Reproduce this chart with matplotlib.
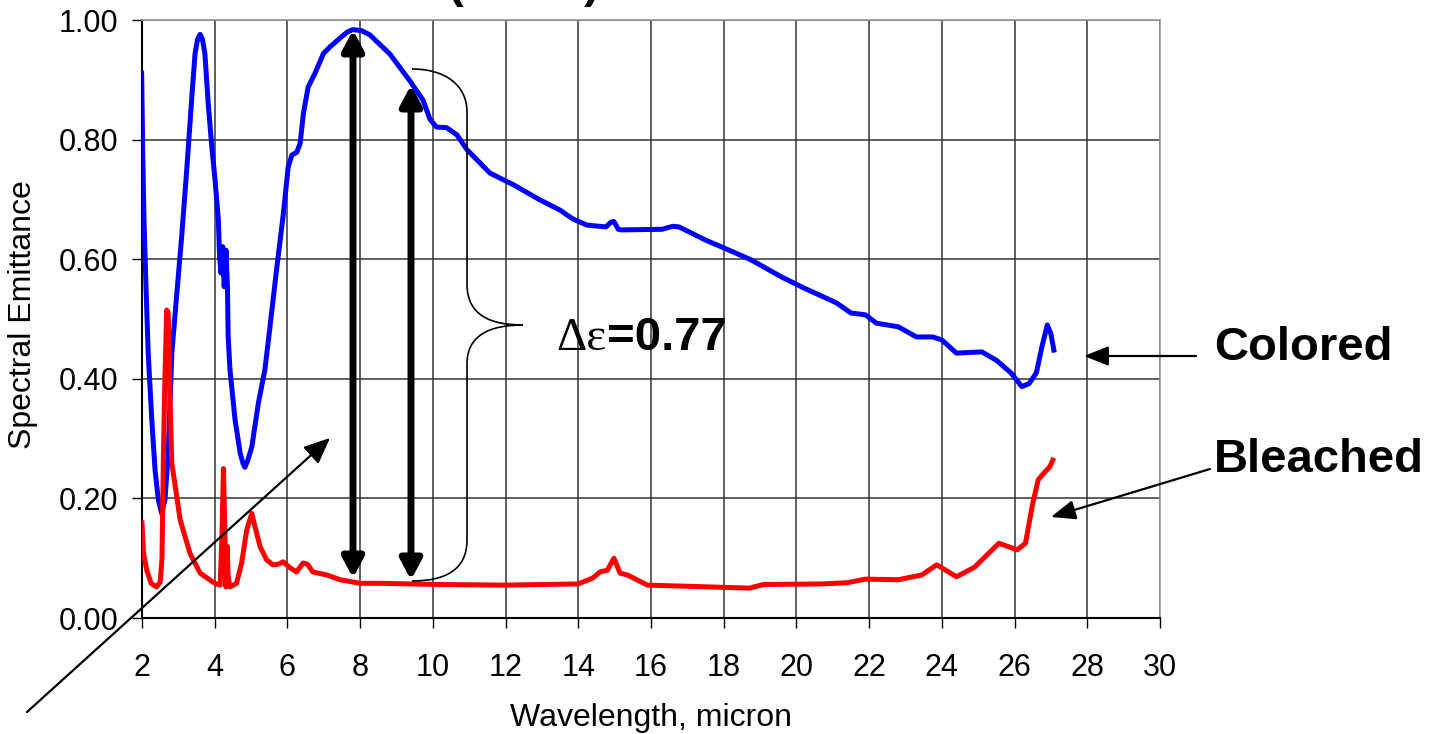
import matplotlib
matplotlib.use("Agg")
import matplotlib.pyplot as plt
from matplotlib.path import Path
from matplotlib.patches import PathPatch

plt.rcParams['font.family'] = ['Liberation Sans', 'DejaVu Sans']

# Colored curve (wavelength, emittance)
colored_x = [1.99, 2.02, 2.055, 2.11, 2.17, 2.27, 2.36, 2.45, 2.54, 2.63, 2.72, 2.82, 2.95, 3.09,
             3.23, 3.37, 3.46, 3.53, 3.6, 3.66, 3.73, 3.82, 3.92, 4.01, 4.10, 4.13, 4.17, 4.22,
             4.26, 4.31, 4.35, 4.37, 4.42, 4.56, 4.70, 4.78, 4.83, 4.90, 5.02, 5.20, 5.38, 5.52,
             5.70, 5.89, 6.02, 6.12, 6.26, 6.35, 6.44, 6.57, 6.76, 6.99, 7.17, 7.45, 7.65, 7.8,
             8.05, 8.27, 8.82, 9.37, 9.73, 9.92, 10.1, 10.38, 10.66, 10.94, 11.57, 12.2, 12.95,
             13.5, 13.86, 14.24, 14.76, 14.9, 14.98, 15.1, 15.17, 16.3, 16.6, 16.77, 17.5,
             18.0, 18.75, 19.6, 20.2, 21.1, 21.5, 21.9, 22.2, 22.8, 23.3, 23.75, 24.0, 24.4,
             25.1, 25.5, 25.9, 26.2, 26.4, 26.6, 26.75, 26.9, 27.0, 27.08]
colored_y = [0.911, 0.778, 0.666, 0.554, 0.443, 0.331, 0.247, 0.197, 0.175, 0.197, 0.275, 0.443,
             0.537, 0.637, 0.749, 0.871, 0.944, 0.968, 0.976, 0.968, 0.944, 0.861, 0.788, 0.732,
             0.666, 0.610, 0.577, 0.621, 0.554, 0.615, 0.554, 0.470, 0.415, 0.331, 0.276, 0.258,
             0.252, 0.262, 0.286, 0.359, 0.415, 0.487, 0.582, 0.677, 0.754, 0.774, 0.779, 0.794,
             0.844, 0.888, 0.911, 0.944, 0.955, 0.970, 0.980, 0.984, 0.982, 0.975, 0.943, 0.898,
             0.866, 0.834, 0.821, 0.82, 0.808, 0.783, 0.744, 0.725, 0.699,
             0.682, 0.667, 0.657, 0.654, 0.662, 0.663, 0.650, 0.649, 0.650, 0.655, 0.654, 0.632,
             0.619, 0.599, 0.570, 0.552, 0.527, 0.510, 0.507, 0.493, 0.487, 0.470, 0.470, 0.465,
             0.443, 0.445, 0.431, 0.410, 0.387, 0.392, 0.410, 0.453, 0.490, 0.475, 0.448]

# Bleached curve
bleached_x = [2.0, 2.04, 2.13, 2.25, 2.4, 2.5, 2.55, 2.59, 2.63, 2.68, 2.72, 2.77, 2.82, 3.05,
              3.32, 3.6, 4.0, 4.15, 4.2, 4.24, 4.28, 4.31, 4.34, 4.37, 4.42, 4.6, 4.74, 4.88,
              5.02, 5.11, 5.25, 5.43, 5.6, 5.75, 5.88, 6.07, 6.25, 6.43, 6.55, 6.7, 7.08, 7.45,
              8.0, 8.55, 10.2, 12.0, 14.0, 14.4, 14.6, 14.8, 14.98, 15.15, 15.35, 15.9, 17.6,
              18.7, 19.1, 20.7, 21.4, 21.9, 22.8, 23.45, 23.86, 24.4, 24.9, 25.57, 26.07, 26.3,
              26.5, 26.65, 26.8, 26.97, 27.05]
bleached_y = [0.159, 0.109, 0.080, 0.058, 0.052, 0.060, 0.10, 0.276, 0.40, 0.515, 0.51, 0.365,
              0.259, 0.164, 0.108, 0.075, 0.058, 0.055, 0.14, 0.25, 0.14, 0.052, 0.12, 0.07,
              0.052, 0.058, 0.092, 0.147, 0.175, 0.152, 0.119, 0.097, 0.089, 0.090, 0.094, 0.084,
              0.077, 0.092, 0.090, 0.077, 0.072, 0.064, 0.058, 0.058, 0.056, 0.055, 0.057, 0.067,
              0.077, 0.080, 0.100, 0.075, 0.072, 0.055, 0.052, 0.050, 0.056, 0.057, 0.059, 0.065,
              0.064, 0.072, 0.089, 0.069, 0.085, 0.125, 0.114, 0.125, 0.192, 0.231, 0.242, 0.253,
              0.264]

x_ticks = list(range(2, 31, 2))
y_ticks = [0.0, 0.2, 0.4, 0.6, 0.8, 1.0]

W, H = 1435, 734
fig = plt.figure(figsize=(W / 100, H / 100), dpi=100)
L, R, T, B = 142, 1160, 20, 618
ax = fig.add_axes([L / W, 1 - B / H, (R - L) / W, (B - T) / H])

ax.plot(colored_x, colored_y, color='#0000FF', lw=3.6, solid_joinstyle='round', zorder=3)
ax.plot(bleached_x, bleached_y, color='#FF0000', lw=3.6, solid_joinstyle='round', zorder=3)

ax.set_xlim(2, 30)
ax.set_ylim(0, 1.0)
ax.set_xticks(x_ticks)
ax.set_yticks(y_ticks)
ax.set_yticklabels([f"{v:.2f}" for v in y_ticks])
ax.grid(True, color='#333333', lw=1.1)
ax.set_axisbelow(True)
for s in ['top', 'right']:
    ax.spines[s].set_color('#999999')
    ax.spines[s].set_linewidth(1.2)
for s in ['left', 'bottom']:
    ax.spines[s].set_color('black')
    ax.spines[s].set_linewidth(1.5)
ax.tick_params(axis='x', direction='out', length=7, width=1, pad=18, labelsize=22)
ax.tick_params(axis='y', direction='out', length=7, width=1, pad=10, labelsize=22)
ax.set_xlabel("Wavelength, micron", fontsize=23)
ax.set_ylabel("Spectral Emittance", fontsize=23)
ax.xaxis.set_label_coords(0.5, -0.142)
ax.yaxis.set_label_coords(-0.102, 0.507)

def px2d(px, py):
    return 2 + (px - L) / ((R - L) / 28), (B - py) / (B - T)

# thick double arrows
for (px, top, bot) in [(353, 30, 578), (411, 85, 580)]:
    ax.annotate('', xy=px2d(px, top), xytext=px2d(px, bot),
                arrowprops=dict(arrowstyle='<|-|>,head_length=0.6,head_width=0.32',
                                lw=5, color='black', shrinkA=0, shrinkB=0,
                                mutation_scale=20), zorder=4)

# brace
pts_px = [(412, 69), (445, 69), (467, 85), (467, 112), (467, 284), (467, 315), (490, 325),
          (523, 325), (490, 325), (467, 335), (467, 364), (467, 540), (467, 570), (445, 581),
          (412, 581)]
codes = [Path.MOVETO, Path.CURVE4, Path.CURVE4, Path.CURVE4, Path.LINETO, Path.CURVE4,
         Path.CURVE4, Path.CURVE4, Path.CURVE4, Path.CURVE4, Path.CURVE4, Path.LINETO,
         Path.CURVE4, Path.CURVE4, Path.CURVE4]
verts = [px2d(*p) for p in pts_px]
ax.add_patch(PathPatch(Path(verts, codes), fill=False, lw=1.2, color='black', zorder=4,
                       clip_on=False))

# thin pointer from lower-left
ax.annotate('', xy=px2d(330, 438), xytext=px2d(27, 712),
            arrowprops=dict(arrowstyle='-|>,head_length=0.8,head_width=0.35', lw=1.6,
                            color='black', shrinkA=0, shrinkB=0, mutation_scale=20),
            annotation_clip=False, zorder=5)

# labels with arrows
ax.annotate('', xy=px2d(1084, 356), xytext=px2d(1196, 356),
            arrowprops=dict(arrowstyle='-|>,head_length=0.75,head_width=0.3', lw=1.6,
                            color='black', shrinkA=0, shrinkB=0, mutation_scale=20),
            annotation_clip=False)
ax.annotate('', xy=px2d(1051, 517), xytext=px2d(1210, 469),
            arrowprops=dict(arrowstyle='-|>,head_length=0.75,head_width=0.3', lw=1.6,
                            color='black', shrinkA=0, shrinkB=0, mutation_scale=20),
            annotation_clip=False)

ax.text(*px2d(1214, 348), "Colored", fontsize=34, fontweight='bold', ha='left', va='center',
        clip_on=False)
ax.text(*px2d(1214, 460), "Bleached", fontsize=34, fontweight='bold', ha='left', va='center',
        clip_on=False)
# Δε in a serif face, value in bold sans
ax.text(*px2d(556, 350), "Δε", fontsize=34, family=['Liberation Serif', 'DejaVu Serif'],
        ha='left', va='baseline', clip_on=False)
ax.text(*px2d(607, 350), "=0.77", fontsize=34, fontweight='bold', ha='left', va='baseline',
        clip_on=False)

# partially visible title parentheses at top edge
fig.text(448 / W, 1 + 3 / H, "(", fontsize=34, fontweight='bold', ha='left', va='baseline')
fig.text(600 / W, 1 + 3 / H, ")", fontsize=34, fontweight='bold', ha='right', va='baseline')

fig.savefig("out.png", dpi=100)
